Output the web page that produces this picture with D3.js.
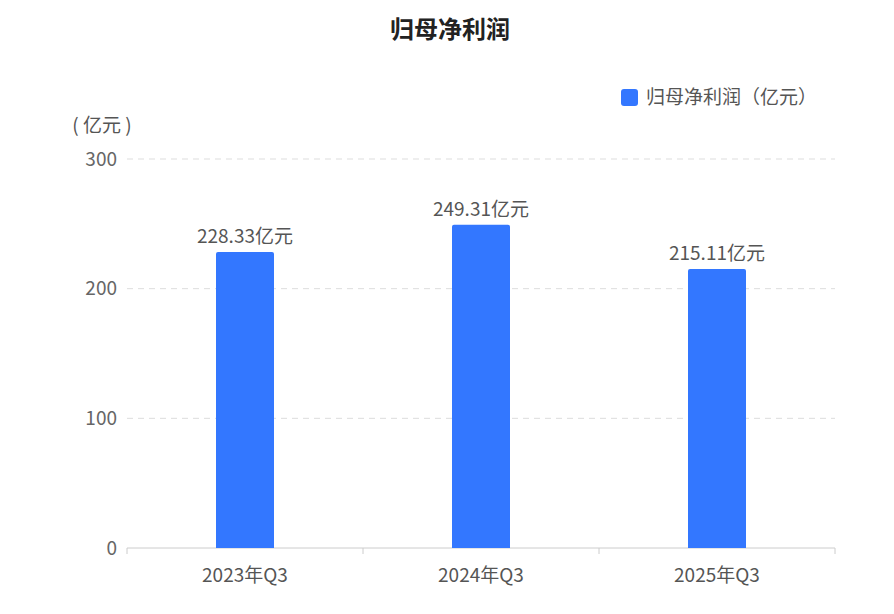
<!DOCTYPE html>
<html>
<head>
<meta charset="utf-8">
<script src="https://cdn.jsdelivr.net/npm/d3@7"></script>
<style>
body { margin: 0; background: #fff; font-family: "Noto Sans CJK SC", "Noto Sans", sans-serif; }
</style>
</head>
<body>
<svg id="chart" width="894" height="614"></svg>
<script>
const categories = ['2023年Q3', '2024年Q3', '2025年Q3'];
const values = [228.33, 249.31, 215.11];
const yTicks = [0, 100, 200, 300];

const svg = d3.select('#chart');
const margin = { left: 127, right: 59, top: 159, bottom: 66 };
const width = 894 - margin.left - margin.right;
const height = 614 - margin.top - margin.bottom;

const x = d3.scaleBand().domain(categories).range([0, width]);
const y = d3.scaleLinear().domain([0, 300]).range([height, 0]);

const g = svg.append('g').attr('transform', `translate(${margin.left},${margin.top})`);

// title
svg.append('text').attr('x', 450).attr('y', 38).attr('text-anchor', 'middle')
  .style('font-size', '24px').style('font-weight', 'bold').attr('fill', '#222').text('归母净利润');

// legend
svg.append('rect').attr('x', 621).attr('y', 89).attr('width', 17).attr('height', 17).attr('rx', 3).attr('fill', '#3377ff');
svg.append('text').attr('x', 646).attr('y', 104).style('font-size', '19px').attr('fill', '#555').text('归母净利润（亿元）');

// unit
svg.append('text').attr('x', 102).attr('y', 132).attr('text-anchor', 'middle')
  .style('font-size', '19px').attr('fill', '#555').text('( 亿元 )');

// grid
g.selectAll('.grid').data(yTicks.filter(d => d > 0)).enter().append('line')
  .attr('x1', 0).attr('x2', width).attr('y1', d => y(d)).attr('y2', d => y(d))
  .attr('stroke', '#ddd').attr('stroke-dasharray', '6,5');

// y labels
g.selectAll('.ytick').data(yTicks).enter().append('text')
  .attr('x', -10).attr('y', d => y(d)).attr('dy', '0.35em').attr('text-anchor', 'end')
  .style('font-size', '19px').attr('fill', '#666').text(d => d);

// x axis
g.append('line').attr('x1', 0).attr('x2', width).attr('y1', height).attr('y2', height).attr('stroke', '#ccc');
g.selectAll('.xtickline').data(d3.range(categories.length + 1)).enter().append('line')
  .attr('x1', i => i * x.step()).attr('x2', i => i * x.step())
  .attr('y1', height).attr('y2', height + 6).attr('stroke', '#ccc');
g.selectAll('.xlabel').data(categories).enter().append('text')
  .attr('x', d => x(d) + x.bandwidth() / 2).attr('y', height + 34).attr('text-anchor', 'middle')
  .style('font-size', '19px').attr('fill', '#555').text(d => d);

// bars
const bw = 58;
g.selectAll('.bar').data(values).enter().append('path')
  .attr('fill', '#3377ff')
  .attr('d', (d, i) => {
    const x0 = x(categories[i]) + x.bandwidth() / 2 - bw / 2, y0 = y(d), r = 2;
    return `M${x0},${height}V${y0 + r}Q${x0},${y0} ${x0 + r},${y0}H${x0 + bw - r}Q${x0 + bw},${y0} ${x0 + bw},${y0 + r}V${height}Z`;
  });

g.selectAll('.val').data(values).enter().append('text')
  .attr('x', (d, i) => x(categories[i]) + x.bandwidth() / 2).attr('y', d => y(d) - 9)
  .attr('text-anchor', 'middle').style('font-size', '19px').attr('fill', '#555')
  .text(d => d.toFixed(2) + '亿元');
</script>
</body>
</html>
